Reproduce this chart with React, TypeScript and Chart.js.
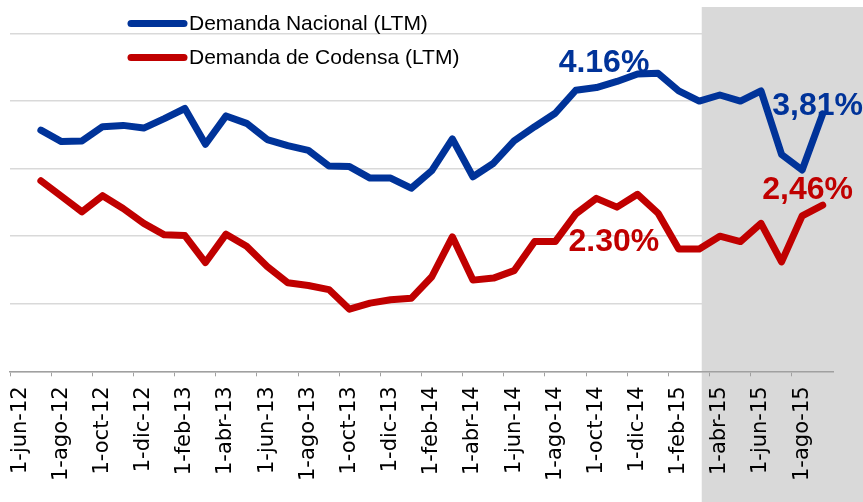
import React, { useEffect, useRef } from 'react';
import { Chart, registerables } from 'chart.js';

Chart.register(...registerables);

// Monthly categories (Excel-style date axis, one slot per month)
const categories: string[] = [
  '1-jun-12', '1-jul-12', '1-ago-12', '1-sep-12', '1-oct-12', '1-nov-12', '1-dic-12',
  '1-ene-13', '1-feb-13', '1-mar-13', '1-abr-13', '1-may-13', '1-jun-13', '1-jul-13',
  '1-ago-13', '1-sep-13', '1-oct-13', '1-nov-13', '1-dic-13', '1-ene-14', '1-feb-14',
  '1-mar-14', '1-abr-14', '1-may-14', '1-jun-14', '1-jul-14', '1-ago-14', '1-sep-14',
  '1-oct-14', '1-nov-14', '1-dic-14', '1-ene-15', '1-feb-15', '1-mar-15', '1-abr-15',
  '1-may-15', '1-jun-15', '1-jul-15', '1-ago-15', '1-sep-15',
];

// Demanda Nacional (LTM), %
const nationalDemand: (number | null)[] = [
  null, 3.57, 3.40, 3.41, 3.62, 3.64, 3.60, 3.74, 3.89, 3.36, 3.78, 3.67, 3.43, 3.34,
  3.27, 3.04, 3.03, 2.86, 2.86, 2.71, 2.97, 3.44, 2.88, 3.08, 3.41, 3.62, 3.82, 4.16,
  4.20, 4.29, 4.40, 4.41, 4.15, 4.00, 4.09, 4.00, 4.15, 3.21, 2.98, 3.81,
];

// Demanda de Codensa (LTM), %
const codensaDemand: (number | null)[] = [
  null, 2.82, 2.59, 2.36, 2.60, 2.41, 2.19, 2.02, 2.01, 1.61, 2.03, 1.85, 1.55, 1.31,
  1.27, 1.21, 0.92, 1.01, 1.06, 1.08, 1.40, 1.99, 1.35, 1.38, 1.49, 1.92, 1.92, 2.33,
  2.56, 2.43, 2.62, 2.34, 1.81, 1.81, 2.00, 1.92, 2.19, 1.62, 2.30, 2.46,
];

const seriesLabels = ['Demanda Nacional (LTM)', 'Demanda de Codensa (LTM)'];
const seriesColors = ['#003399', '#C00000'];

// Callout labels: text, category position, value position
const calloutTexts = ['4.16%', '3,81%', '2.30%', '2,46%'];
const calloutX = [28.37, 38.75, 28.85, 38.27];
const calloutY = [4.435, 3.794, 1.787, 2.547];
const calloutColors = ['#003399', '#003399', '#C00000', '#C00000'];

// Shaded period starts here (category units)
const shadeFrom = 33.12;

const Y_MIN = 0;
const Y_MAX = 5;
const Y_STEP = 1;

const shadePlugin = {
  id: 'shade',
  beforeDraw(chart: any) {
    const { ctx, scales, width, height } = chart;
    const x0 = scales.x.getPixelForValue(shadeFrom);
    ctx.save();
    ctx.fillStyle = '#d9d9d9';
    ctx.fillRect(x0, 7, width - x0, height - 7);
    ctx.restore();
  },
};

const calloutPlugin = {
  id: 'callouts',
  afterDatasetsDraw(chart: any) {
    const { ctx, scales } = chart;
    ctx.save();
    ctx.font = 'bold 32px "Liberation Sans", Arial, sans-serif';
    ctx.textAlign = 'center';
    ctx.textBaseline = 'alphabetic';
    calloutTexts.forEach((t, i) => {
      ctx.fillStyle = calloutColors[i];
      ctx.fillText(t, scales.x.getPixelForValue(calloutX[i]), scales.y.getPixelForValue(calloutY[i]));
    });
    ctx.restore();
  },
};

const legendPlugin = {
  id: 'insideLegend',
  afterDraw(chart: any) {
    const { ctx } = chart;
    ctx.save();
    chart.data.datasets.forEach((ds: any, i: number) => {
      const y = 23.5 + i * 34;
      ctx.strokeStyle = ds.borderColor;
      ctx.lineWidth = 7;
      ctx.lineCap = 'round';
      ctx.beginPath();
      ctx.moveTo(131, y);
      ctx.lineTo(184, y);
      ctx.stroke();
      ctx.fillStyle = '#000';
      ctx.font = '21px "Liberation Sans", Arial, sans-serif';
      ctx.textAlign = 'left';
      ctx.textBaseline = 'middle';
      ctx.fillText(ds.label, 189, y + 1);
    });
    ctx.restore();
  },
};

export default function App() {
  const canvasRef = useRef<HTMLCanvasElement | null>(null);

  useEffect(() => {
    document.body.style.margin = '0';
    const canvas = canvasRef.current;
    if (!canvas) return;
    const chart = new Chart(canvas, {
      type: 'line',
      data: {
        labels: categories,
        datasets: [
          {
            label: seriesLabels[0],
            data: nationalDemand,
            borderColor: seriesColors[0],
            backgroundColor: seriesColors[0],
            borderWidth: 7,
            pointRadius: 0,
            tension: 0,
            borderJoinStyle: 'round',
            borderCapStyle: 'round',
          },
          {
            label: seriesLabels[1],
            data: codensaDemand,
            borderColor: seriesColors[1],
            backgroundColor: seriesColors[1],
            borderWidth: 7,
            pointRadius: 0,
            tension: 0,
            borderJoinStyle: 'round',
            borderCapStyle: 'round',
          },
        ],
      },
      options: {
        responsive: false,
        animation: false,
        devicePixelRatio: 1,
        layout: { padding: { top: 33.5, left: 10, right: 30, bottom: 11 } },
        plugins: {
          legend: { display: false },
          tooltip: { enabled: false },
        },
        scales: {
          x: {
            type: 'category',
            offset: true,
            grid: {
              offset: true,
              drawOnChartArea: false,
              drawTicks: true,
              tickLength: 5,
              color: (c: any) => (c.index % 2 === 0 ? '#a0a0a0' : 'rgba(0,0,0,0)'),
            },
            border: { display: true, color: '#a0a0a0', width: 1.5 },
            ticks: {
              autoSkip: false,
              maxRotation: 90,
              minRotation: 90,
              padding: 10,
              color: '#000',
              font: { family: '"DejaVu Sans", sans-serif', size: 21 },
              callback: (_v: any, i: number) => (i % 2 === 0 ? categories[i] : ''),
            },
          },
          y: {
            min: Y_MIN,
            max: Y_MAX,
            ticks: { display: false, stepSize: Y_STEP },
            border: { display: false },
            grid: { color: '#d9d9d9', lineWidth: 1.5, drawTicks: false },
          },
        },
      },
      plugins: [shadePlugin, calloutPlugin, legendPlugin],
    });
    return () => chart.destroy();
  }, []);

  return (
    <canvas ref={canvasRef} width={863} height={502} style={{ display: 'block', width: 863, height: 502 }} />
  );
}
